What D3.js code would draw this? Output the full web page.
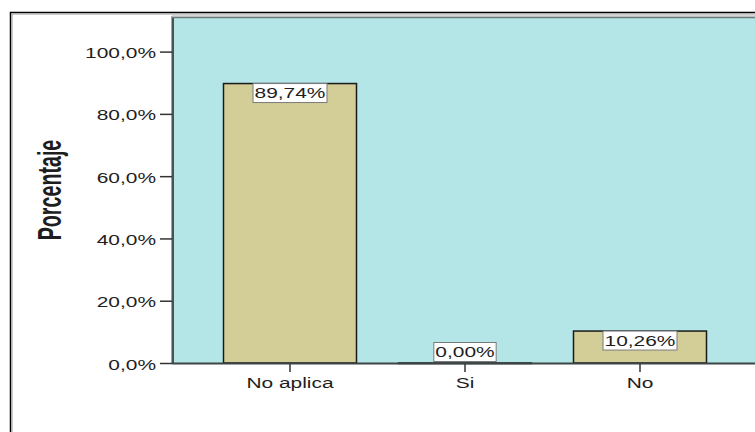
<!DOCTYPE html>
<html>
<head>
<meta charset="utf-8">
<script src="https://cdn.jsdelivr.net/npm/d3@7"></script>
<style>
  html, body { margin: 0; padding: 0; background: #ffffff; }
  svg { display: block; }
  text { font-family: "Liberation Sans", Arial, sans-serif; fill: #1e1e1e; }
</style>
</head>
<body>
<svg id="chart" width="755" height="432"></svg>
<script>
// ---- data ----
const categories = ["No aplica", "Si", "No"];
const values = [89.74, 0.00, 10.26];
const valueLabels = ["89,74%", "0,00%", "10,26%"];
const yTicks = [0, 20, 40, 60, 80, 100];
const yTickLabels = ["0,0%", "20,0%", "40,0%", "60,0%", "80,0%", "100,0%"];
const yTitle = "Porcentaje";

// ---- layout ----
const W = 755, H = 432;
const plotLeft = 172, plotTop = 17, plotBottom = 363, plotRight = 800;
const stretch = 1.35;           // horizontal stretch of text seen in the reference
const fontSize = 15.5;

const svg = d3.select("#chart");

// outer frame
svg.append("rect")
  .attr("x", 10.5).attr("y", 12.5).attr("width", 900).attr("height", 600)
  .attr("fill", "#ffffff").attr("stroke", "#000000").attr("stroke-width", 1.5);
svg.append("line").attr("x1", 12).attr("x2", 12).attr("y1", 14).attr("y2", H)
  .attr("stroke", "#9a9a9a").attr("stroke-width", 1);
svg.append("line").attr("x1", 12).attr("x2", W).attr("y1", 14).attr("y2", 14)
  .attr("stroke", "#9a9a9a").attr("stroke-width", 1);

// scales
const y = d3.scaleLinear().domain([0, 100]).range([plotBottom, 51.6]);
const x = d3.scaleBand().domain(categories)
  .range([202.5, 727.5]).paddingInner(0.24).paddingOuter(0.12);

// plot background
svg.append("rect")
  .attr("x", plotLeft).attr("y", plotTop)
  .attr("width", plotRight - plotLeft).attr("height", plotBottom - plotTop)
  .attr("fill", "#b4e6e7");
// plot frame (left + top), with soft shadow
svg.append("line").attr("x1", plotLeft - 0.5).attr("x2", plotLeft - 0.5)
  .attr("y1", plotTop - 1).attr("y2", plotBottom)
  .attr("stroke", "#9aa8a8").attr("stroke-width", 1);
svg.append("line").attr("x1", plotLeft + 1).attr("x2", plotLeft + 1)
  .attr("y1", plotTop).attr("y2", plotBottom)
  .attr("stroke", "#4a5252").attr("stroke-width", 2);
svg.append("line").attr("x1", plotLeft).attr("x2", plotRight)
  .attr("y1", plotTop - 1).attr("y2", plotTop - 1)
  .attr("stroke", "#a8b0b0").attr("stroke-width", 1);
svg.append("line").attr("x1", plotLeft).attr("x2", plotRight)
  .attr("y1", plotTop + 0.5).attr("y2", plotTop + 0.5)
  .attr("stroke", "#6f7a7a").attr("stroke-width", 1.5);

// bars
svg.append("g").selectAll("rect")
  .data(categories)
  .join("rect")
  .attr("x", d => x(d))
  .attr("y", (d, i) => y(values[i]))
  .attr("width", x.bandwidth())
  .attr("height", (d, i) => Math.max(0.5, y(0) - y(values[i])))
  .attr("fill", "#d3ce97")
  .attr("stroke", "#1a1a1a")
  .attr("stroke-width", 1.5);

// baseline
svg.append("line").attr("x1", plotLeft).attr("x2", plotRight)
  .attr("y1", plotBottom + 0.5).attr("y2", plotBottom + 0.5)
  .attr("stroke", "#3c4444").attr("stroke-width", 2);

// y axis
const yAxis = d3.axisLeft(y).tickValues(yTicks)
  .tickFormat((d, i) => yTickLabels[i]).tickSize(12).tickPadding(4);
const gy = svg.append("g").attr("transform", `translate(${plotLeft},0)`).call(yAxis);
gy.select(".domain").remove();
gy.selectAll(".tick line").attr("stroke", "#333").attr("stroke-width", 1.5);
gy.selectAll(".tick text")
  .attr("x", null).attr("dy", null)
  .attr("text-anchor", "end")
  .attr("transform", `translate(-16,6) scale(${stretch},1)`)
  .style("font-size", fontSize + "px")
  .style("font-family", "'Liberation Sans', Arial, sans-serif")
  .attr("fill", "#1e1e1e");

// x axis
const xAxis = d3.axisBottom(x).tickSize(8).tickPadding(5);
const gx = svg.append("g").attr("transform", `translate(0,${plotBottom + 1})`).call(xAxis);
gx.select(".domain").remove();
gx.selectAll(".tick line").attr("stroke", "#333").attr("stroke-width", 1.5);
gx.selectAll(".tick text")
  .attr("y", null).attr("dy", null)
  .attr("text-anchor", "middle")
  .attr("transform", `translate(0,23.5) scale(${stretch},1)`)
  .style("font-size", fontSize + "px")
  .style("font-family", "'Liberation Sans', Arial, sans-serif")
  .attr("fill", "#1e1e1e");

// y title
svg.append("text")
  .attr("transform", `translate(61,190) scale(${stretch},0.82) rotate(-90)`)
  .attr("text-anchor", "middle")
  .style("font-size", "24px")
  .style("font-weight", "bold")
  .text(yTitle);

// value labels
const boxH = 19;
const lg = svg.append("g");
categories.forEach((c, i) => {
  const cx = x(c) + x.bandwidth() / 2;
  const top = y(values[i]);
  const inside = (y(0) - top) >= boxH;
  const boxTop = inside ? top : y(0) - boxH - 1.5;
  const g = lg.append("g");
  const t = g.append("text")
    .attr("text-anchor", "middle")
    .attr("transform", `translate(${cx},${boxTop + 14.8}) scale(${stretch},1)`)
    .style("font-size", fontSize + "px")
    .text(valueLabels[i]);
  const w = t.node().getComputedTextLength() * stretch + 3;
  g.insert("rect", "text")
    .attr("x", cx - w / 2).attr("y", boxTop)
    .attr("width", w).attr("height", boxH)
    .attr("fill", "#ffffff")
    .attr("stroke", "#7a7a7a").attr("stroke-width", 1);
});
</script>
</body>
</html>
